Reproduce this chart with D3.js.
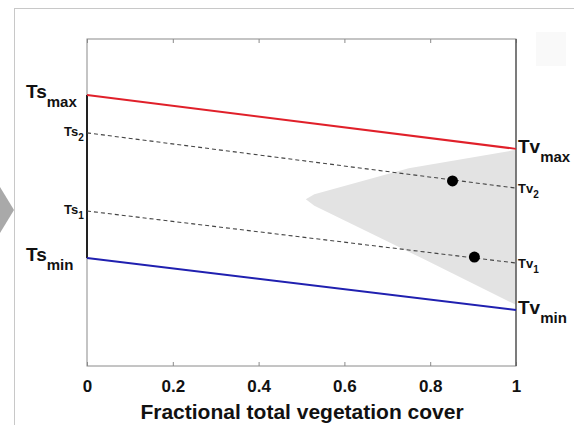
<!DOCTYPE html>
<html>
<head>
<meta charset="utf-8">
<script src="https://cdn.jsdelivr.net/npm/d3@7"></script>
<style>
  body { margin: 0; background: #fff; }
  text { font-family: "Liberation Sans", Arial, sans-serif; font-weight: bold; fill: #111; }
</style>
</head>
<body>
<script>
// chart values (y in relative temperature units, 0..1)
var xTicks = [0, 0.2, 0.4, 0.6, 0.8, 1];
var tsTv = [
    { name: "max", ts: 0.829, tv: 0.664, color: "#e0202a" },
    { name: "min", ts: 0.330, tv: 0.171, color: "#2020b0" }
];
var dashed = [
    { name: "2", ts: 0.713, tv: 0.544 },
    { name: "1", ts: 0.474, tv: 0.315 }
];
var points = [
    { fv: 0.852, t: 0.566 },
    { fv: 0.903, t: 0.333 }
];
var wedge = [[0.51, 0.51], [0.53, 0.525], [0.75, 0.605], [1, 0.661],
             [1, 0.187], [0.78, 0.33], [0.53, 0.49]];

window.onload = function() {
    var w = 574, h = 425;
    var svg = d3.select("body").append("svg")
        .attr("width", w)
        .attr("height", h);

    // outer frame of the slide
    svg.append("line").attr("x1", 14).attr("x2", w).attr("y1", 8.5).attr("y2", 8.5)
        .style("stroke", "#c8c8c8");
    svg.append("line").attr("x1", 14.5).attr("x2", 14.5).attr("y1", 8).attr("y2", h)
        .style("stroke", "#c8c8c8");
    svg.append("path").attr("d", "M0,187 L14,210 L0,233 Z").style("fill", "#a9a9a9");
    svg.append("rect").attr("x", 536).attr("y", 32).attr("width", 30).attr("height", 34)
        .style("fill", "#f9f9f9");

    var x = d3.scaleLinear().domain([0, 1]).range([87, 516]);
    var y = d3.scaleLinear().domain([0, 1]).range([366, 39]);

    // grey wedge
    svg.append("path")
        .datum(wedge)
        .attr("d", d3.line().curve(d3.curveLinearClosed)
            .x(function(d) { return x(d[0]); })
            .y(function(d) { return y(d[1]); }))
        .style("fill", "#e3e3e3");

    // axes box
    svg.append("rect").attr("x", x(0)).attr("y", y(1))
        .attr("width", x(1) - x(0)).attr("height", y(0) - y(1))
        .style("fill", "none").style("stroke", "#8a8a8a");

    var bottom = svg.append("g").attr("transform", "translate(0," + y(0) + ")")
        .call(d3.axisBottom(x).tickValues(xTicks).tickSize(-4).tickPadding(14)
            .tickFormat(function(d) { return d === 0 || d === 1 ? d3.format("d")(d) : d3.format(".1f")(d); }));
    bottom.select(".domain").remove();
    bottom.selectAll("line").style("stroke", "#8a8a8a");
    bottom.selectAll("text").attr("y", 26).attr("dy", null)
        .style("font-size", "17px").style("font-family", "Liberation Sans, Arial, sans-serif")
        .style("font-weight", "bold").attr("fill", "#111");

    var top = svg.append("g").attr("transform", "translate(0," + y(1) + ")")
        .call(d3.axisTop(x).tickValues(xTicks).tickSize(-4).tickFormat(""));
    top.select(".domain").remove();
    top.selectAll("line").style("stroke", "#8a8a8a");

    // right edge darker
    svg.append("line").attr("x1", x(1)).attr("x2", x(1)).attr("y1", y(1)).attr("y2", y(0))
        .style("stroke", "#555").style("stroke-width", 1.3);
    // left edge dark between Ts_max and Ts_min
    svg.append("line").attr("x1", x(0)).attr("x2", x(0))
        .attr("y1", y(tsTv[0].ts)).attr("y2", y(tsTv[1].ts))
        .style("stroke", "#222").style("stroke-width", 2);

    // dashed isolines
    svg.selectAll(".iso").data(dashed).enter().append("line")
        .attr("class", "iso")
        .attr("x1", x(0)).attr("y1", function(d) { return y(d.ts); })
        .attr("x2", x(1)).attr("y2", function(d) { return y(d.tv); })
        .style("stroke", "#444").style("stroke-width", 1.1)
        .style("stroke-dasharray", "4,3");

    // dry / wet edges
    svg.selectAll(".edge").data(tsTv).enter().append("line")
        .attr("class", "edge")
        .attr("x1", x(0)).attr("y1", function(d) { return y(d.ts); })
        .attr("x2", x(1)).attr("y2", function(d) { return y(d.tv); })
        .style("stroke", function(d) { return d.color; })
        .style("stroke-width", 2);

    svg.selectAll(".pt").data(points).enter().append("circle")
        .attr("cx", function(d) { return x(d.fv); })
        .attr("cy", function(d) { return y(d.t); })
        .attr("r", 5.5).style("fill", "#000");

    // big labels
    tsTv.forEach(function(d) {
        var t = svg.append("text").attr("x", 26).attr("y", y(d.ts) + 3).style("font-size", "19px");
        t.append("tspan").text("Ts");
        t.append("tspan").attr("dy", 9).style("font-size", "15px").text(d.name);
        var v = svg.append("text").attr("x", 518).attr("y", y(d.tv) + 4).style("font-size", "19px");
        v.append("tspan").text("Tv");
        v.append("tspan").attr("dy", 9).style("font-size", "15px").text(d.name);
    });
    dashed.forEach(function(d) {
        var t = svg.append("text").attr("x", 64).attr("y", y(d.ts) + 3).style("font-size", "13px");
        t.append("tspan").text("Ts");
        t.append("tspan").attr("dy", 5).style("font-size", "10px").text(d.name);
        var v = svg.append("text").attr("x", 518).attr("y", y(d.tv) + 5).style("font-size", "13px");
        v.append("tspan").text("Tv");
        v.append("tspan").attr("dy", 5).style("font-size", "10px").text(d.name);
    });

    svg.append("text").attr("x", 302).attr("y", 419).attr("text-anchor", "middle")
        .style("font-size", "21px").text("Fractional total vegetation cover");
};
</script>
</body>
</html>
